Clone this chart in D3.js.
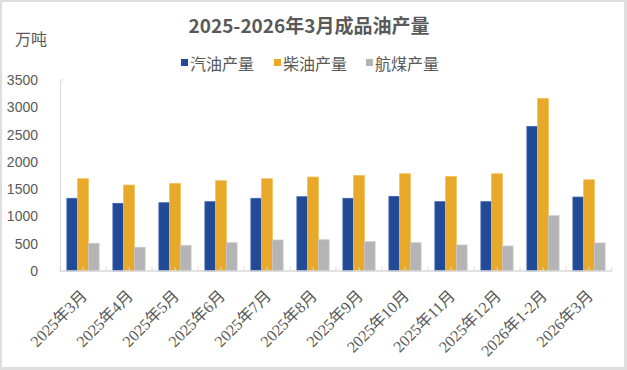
<!DOCTYPE html>
<html>
<meta charset="utf-8">
<head>
<script src="https://cdn.jsdelivr.net/npm/d3@7"></script>
<style>
  body { margin: 0; background: #fff; }
  text { fill: #595959; }
</style>
</head>
<body>
<script>
// 数据
var months = ["2025年3月", "2025年4月", "2025年5月", "2025年6月", "2025年7月", "2025年8月",
              "2025年9月", "2025年10月", "2025年11月", "2025年12月", "2026年1-2月", "2026年3月"];
var gasoline = [1332, 1240, 1251, 1270, 1332, 1361, 1332, 1368, 1270, 1270, 2650, 1355];
var diesel   = [1691, 1575, 1606, 1654, 1691, 1722, 1752, 1782, 1734, 1782, 3163, 1672];
var jetFuel  = [507, 434, 470, 518, 568, 572, 537, 518, 476, 458, 1013, 513];
var seriesNames = ["汽油产量", "柴油产量", "航煤产量"];
var yTicks = [0, 500, 1000, 1500, 2000, 2500, 3000, 3500];

var colors = ["#214a97", "#e8a82a", "#b4b4b4"];
var strokes = ["#3a63b0", "#f3c257", "#c8c8c8"];

var width = 627, height = 370;
var cjk = "'Noto Sans CJK SC', sans-serif";
var serifMix = "'Liberation Serif', 'Noto Sans CJK SC', serif";

var svg = d3.select("body").append("svg")
  .attr("width", width)
  .attr("height", height);

// 外框
svg.append("rect").attr("width", width).attr("height", height).attr("fill", "#dedede");
svg.append("rect").attr("x", 2).attr("y", 2).attr("width", 622).attr("height", 365).attr("fill", "#fff");

var x0 = d3.scaleBand().domain(months).range([60, 612]).paddingInner(0.3).paddingOuter(0.15);
var x1 = d3.scaleBand().domain([0, 1, 2]).range([0, x0.bandwidth()]);
var y = d3.scaleLinear().domain([0, 3500]).range([271, 80]);

// 标题
svg.append("text")
  .attr("x", 309).attr("y", 33)
  .attr("text-anchor", "middle")
  .style("font-family", cjk)
  .style("font-size", "19px")
  .style("font-weight", "bold")
  .text("2025-2026年3月成品油产量");

svg.append("text")
  .attr("x", 15).attr("y", 45)
  .style("font-family", cjk)
  .style("font-size", "16px")
  .text("万吨");

// 图例
var legendX = [181, 274, 366];
var legend = svg.selectAll(".legend").data(seriesNames).join("g").attr("class", "legend");
legend.append("rect")
  .attr("x", function (d, i) { return legendX[i]; })
  .attr("y", 59).attr("width", 7).attr("height", 7)
  .attr("fill", function (d, i) { return colors[i]; });
legend.append("text")
  .attr("x", function (d, i) { return legendX[i] + 9; })
  .attr("y", 70)
  .style("font-family", cjk)
  .style("font-size", "16px")
  .text(function (d) { return d; });

// 柱子
var table = months.map(function (m, i) {
  return { month: m, values: [gasoline[i], diesel[i], jetFuel[i]] };
});
var groups = svg.selectAll(".grp").data(table).join("g")
  .attr("class", "grp")
  .attr("transform", function (d) { return "translate(" + x0(d.month) + ",0)"; });
groups.selectAll("rect")
  .data(function (d) { return d.values; })
  .join("rect")
  .attr("x", function (d, i) { return x1(i); })
  .attr("y", function (d) { return y(d); })
  .attr("width", x1.bandwidth())
  .attr("height", function (d) { return y(0) - y(d); })
  .attr("fill", function (d, i) { return colors[i]; })
  .attr("stroke", function (d, i) { return strokes[i]; })
  .attr("stroke-width", 0.8);

// Y 轴
var yAxis = svg.append("g")
  .attr("transform", "translate(60,0)")
  .call(d3.axisLeft(y).tickValues(yTicks).tickFormat(d3.format("d")).tickSize(0).tickPadding(22));
yAxis.select(".domain").attr("stroke", "#d9d9d9");
yAxis.selectAll("text")
  .style("font-family", "'Liberation Sans', Arial, sans-serif")
  .style("font-size", "14px");
svg.append("line")
  .attr("x1", 60).attr("x2", 63).attr("y1", y(3500)).attr("y2", y(3500))
  .attr("stroke", "#d9d9d9");

// X 轴
svg.append("line")
  .attr("x1", 60).attr("x2", 612).attr("y1", y(0)).attr("y2", y(0))
  .attr("stroke", "#d9d9d9").attr("stroke-width", 1.5);
var step = x0.step();
var tickPos = d3.range(0, months.length * 2 + 1).map(function (k) { return 60 + k * step / 2; });
svg.selectAll(".xtick").data(tickPos).join("line")
  .attr("class", "xtick")
  .attr("x1", function (d) { return d; }).attr("x2", function (d) { return d; })
  .attr("y1", y(0)).attr("y2", y(0) - 4)
  .attr("stroke", "#d9d9d9");

svg.selectAll(".xlabel").data(months).join("text")
  .attr("class", "xlabel")
  .attr("text-anchor", "end")
  .attr("transform", function (d) {
    var cx = x0(d) + x0.bandwidth() / 2 + 5;
    return "translate(" + cx + ",297) rotate(-45)";
  })
  .style("font-family", serifMix)
  .style("font-size", "16px")
  .text(function (d) { return d; });
</script>
</body>
</html>
